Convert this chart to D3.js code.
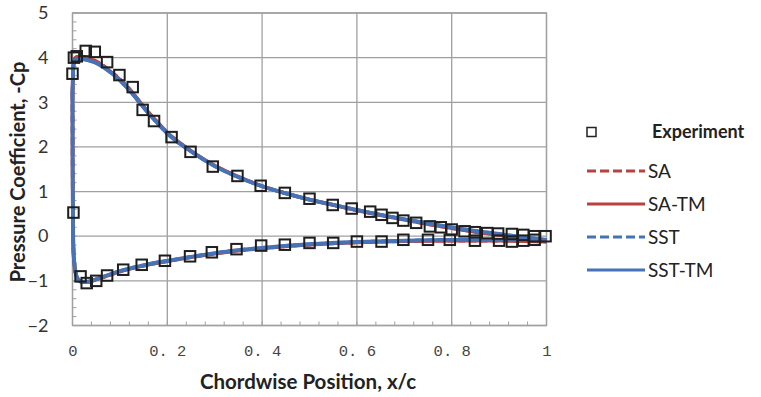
<!DOCTYPE html>
<html>
<head>
<meta charset="utf-8">
<script src="https://cdn.jsdelivr.net/npm/d3@7"></script>
<style>
  html, body { margin: 0; padding: 0; background: #fff; }
  svg { display: block; }
</style>
</head>
<body>
<svg id="chart" width="761" height="397"></svg>
<script>
// Chordwise stations and -Cp values, upper and lower surfaces
const xUpper      = [0, 0.002, 0.005, 0.01, 0.02, 0.03, 0.05, 0.075, 0.1, 0.125, 0.15, 0.175, 0.2, 0.25, 0.3, 0.35, 0.4, 0.45, 0.5, 0.55, 0.6, 0.65, 0.7, 0.75, 0.8, 0.85, 0.9, 0.95, 1.0];
const saUpper     = [3.2, 3.85, 3.98, 4.02, 4.03, 4.0, 3.92, 3.74, 3.52, 3.24, 2.9, 2.6, 2.32, 1.91, 1.58, 1.33, 1.12, 0.96, 0.82, 0.7, 0.58, 0.47, 0.37, 0.27, 0.18, 0.1, 0.03, -0.04, -0.12];
const saTmUpper   = [3.2, 3.84, 3.97, 4.01, 4.02, 3.99, 3.91, 3.73, 3.51, 3.23, 2.9, 2.6, 2.32, 1.91, 1.58, 1.33, 1.12, 0.96, 0.82, 0.7, 0.58, 0.47, 0.37, 0.27, 0.18, 0.1, 0.03, -0.04, -0.12];
const sstUpper    = [3.2, 3.82, 3.94, 3.97, 3.97, 3.95, 3.88, 3.71, 3.49, 3.21, 2.88, 2.58, 2.3, 1.9, 1.57, 1.32, 1.12, 0.96, 0.82, 0.7, 0.59, 0.48, 0.38, 0.29, 0.2, 0.12, 0.05, -0.02, -0.08];
const sstTmUpper  = [3.2, 3.82, 3.94, 3.97, 3.97, 3.95, 3.88, 3.71, 3.49, 3.21, 2.88, 2.58, 2.3, 1.9, 1.57, 1.32, 1.12, 0.96, 0.82, 0.7, 0.59, 0.48, 0.38, 0.29, 0.2, 0.12, 0.05, -0.02, -0.08];

const xLower      = [0, 0.0003, 0.001, 0.002, 0.004, 0.007, 0.012, 0.02, 0.03, 0.05, 0.075, 0.1, 0.15, 0.2, 0.25, 0.3, 0.35, 0.4, 0.5, 0.6, 0.7, 0.8, 0.9, 1.0];
const saLower     = [3.2, 1.6, 0.3, -0.3, -0.62, -0.84, -0.97, -1.03, -1.03, -0.97, -0.88, -0.79, -0.66, -0.56, -0.47, -0.39, -0.32, -0.27, -0.19, -0.14, -0.11, -0.1, -0.1, -0.12];
const saTmLower   = [3.2, 1.6, 0.3, -0.3, -0.62, -0.84, -0.97, -1.03, -1.03, -0.97, -0.88, -0.79, -0.66, -0.56, -0.47, -0.39, -0.32, -0.27, -0.19, -0.14, -0.11, -0.1, -0.1, -0.12];
const sstLower    = [3.2, 1.6, 0.3, -0.3, -0.62, -0.84, -0.97, -1.02, -1.02, -0.96, -0.87, -0.78, -0.65, -0.55, -0.46, -0.38, -0.31, -0.26, -0.18, -0.13, -0.1, -0.08, -0.08, -0.08];
const sstTmLower  = [3.2, 1.6, 0.3, -0.3, -0.62, -0.84, -0.97, -1.02, -1.02, -0.96, -0.87, -0.78, -0.65, -0.55, -0.46, -0.38, -0.31, -0.26, -0.18, -0.13, -0.1, -0.08, -0.08, -0.08];

// Experimental measurements
const expX  = [0, 0.003, 0.009, 0.028, 0.047, 0.073, 0.099, 0.127, 0.148, 0.172, 0.209, 0.249, 0.296, 0.348, 0.397, 0.448, 0.5, 0.549, 0.589, 0.628, 0.652, 0.675, 0.698, 0.725, 0.754, 0.777, 0.8, 0.827, 0.849, 0.875, 0.898, 0.927, 0.951, 0.974, 0.998,
               0.002, 0.017, 0.03, 0.05, 0.073, 0.107, 0.146, 0.195, 0.248, 0.294, 0.346, 0.398, 0.448, 0.5, 0.55, 0.6, 0.652, 0.698, 0.75, 0.796, 0.849, 0.9, 0.927, 0.951, 0.975];
const expCp = [3.64, 4.0, 4.03, 4.15, 4.13, 3.9, 3.61, 3.34, 2.83, 2.58, 2.22, 1.89, 1.56, 1.35, 1.13, 0.97, 0.84, 0.7, 0.62, 0.55, 0.48, 0.41, 0.35, 0.3, 0.22, 0.2, 0.15, 0.11, 0.09, 0.07, 0.06, 0.05, 0.03, 0.0, 0.0,
               0.53, -0.9, -1.05, -1.0, -0.88, -0.75, -0.64, -0.55, -0.45, -0.36, -0.29, -0.21, -0.19, -0.15, -0.15, -0.12, -0.12, -0.08, -0.08, -0.08, -0.1, -0.1, -0.12, -0.1, -0.08];

const xTicks = [0, 0.2, 0.4, 0.6, 0.8, 1];
const xTickLabels = ["0", "0. 2", "0. 4", "0. 6", "0. 8", "1"];
const yTicks = [-2, -1, 0, 1, 2, 3, 4, 5];

const seriesNames = ["SA", "SA-TM", "SST", "SST-TM"];
const seriesColors = ["#b8423f", "#b8423f", "#4673b8", "#4673b8"];
const seriesDashed = [true, false, true, false];

const svg = d3.select("#chart");
const margin = { left: 72.5, right: 761 - 546.5, top: 13, bottom: 397 - 325.5 };
const W = 761 - margin.left - margin.right;
const H = 397 - margin.top - margin.bottom;

const x = d3.scaleLinear().domain([0, 1]).range([margin.left, margin.left + W]);
const y = d3.scaleLinear().domain([-2, 5]).range([margin.top + H, margin.top]);

const gridColor = "#a0a0a0";
const textFont = "Lato, 'Open Sans', sans-serif";

// gridlines
const g = svg.append("g");
g.selectAll(".gx").data(xTicks).join("line")
  .attr("x1", d => x(d)).attr("x2", d => x(d))
  .attr("y1", y(-2)).attr("y2", y(5))
  .attr("stroke", gridColor).attr("stroke-width", 1.3);
g.selectAll(".gy").data(yTicks).join("line")
  .attr("x1", x(0)).attr("x2", x(1))
  .attr("y1", d => y(d)).attr("y2", d => y(d))
  .attr("stroke", gridColor).attr("stroke-width", 1.3);

// minor ticks on the inside of the left and bottom axes
const xMinor = d3.range(0, 1.0001, 0.04);
const yMinor = d3.range(-2, 5.0001, 0.2);
g.selectAll(".mx").data(xMinor).join("line")
  .attr("x1", d => x(d)).attr("x2", d => x(d))
  .attr("y1", y(-2)).attr("y2", y(-2) - 4)
  .attr("stroke", gridColor).attr("stroke-width", 1);
g.selectAll(".my").data(yMinor).join("line")
  .attr("x1", x(0)).attr("x2", x(0) + 4)
  .attr("y1", d => y(d)).attr("y2", d => y(d))
  .attr("stroke", gridColor).attr("stroke-width", 1);

// axes labels
const xAxis = d3.axisBottom(x).tickValues(xTicks).tickSize(0).tickPadding(19)
  .tickFormat((d, i) => xTickLabels[i]);
const xg = svg.append("g").attr("transform", `translate(0,${y(-2)})`).call(xAxis);
xg.select(".domain").remove();
xg.selectAll("text").attr("font-family", "'Liberation Mono', 'DejaVu Sans Mono', monospace")
  .attr("font-size", 15.5).attr("fill", "#444");

const yAxis = d3.axisLeft(y).tickValues(yTicks).tickSize(0).tickPadding(24).tickFormat(d3.format("d"));
const yg = svg.append("g").attr("transform", `translate(${x(0)},0)`).call(yAxis);
yg.select(".domain").remove();
yg.selectAll("text").attr("font-family", textFont)
  .attr("font-size", 18).attr("fill", "#333");

// plot border
svg.append("rect").attr("x", x(0)).attr("y", y(5)).attr("width", W).attr("height", H)
  .attr("fill", "none").attr("stroke", gridColor).attr("stroke-width", 1.3);

// CFD curves
const lineGen = d3.line().x(d => x(d[0])).y(d => y(d[1])).curve(d3.curveMonotoneX);
const upperSets = [saUpper, saTmUpper, sstUpper, sstTmUpper];
const lowerSets = [saLower, saTmLower, sstLower, sstTmLower];
const curves = svg.append("g").attr("fill", "none");
seriesNames.forEach((name, i) => {
  const upper = xUpper.map((xv, k) => [xv, upperSets[i][k]]);
  const lower = xLower.map((xv, k) => [xv, lowerSets[i][k]]);
  [upper, lower].forEach(pts => {
    curves.append("path")
      .attr("d", lineGen(pts))
      .attr("stroke", seriesColors[i])
      .attr("stroke-width", seriesDashed[i] ? 3.5 : 3.8)
      .attr("stroke-dasharray", seriesDashed[i] ? "7,4" : null);
  });
});

// experiment markers
const ms = 10.5;
svg.append("g").selectAll("rect").data(expX.map((v, i) => [v, expCp[i]])).join("rect")
  .attr("x", d => x(d[0]) - ms / 2).attr("y", d => y(d[1]) - ms / 2)
  .attr("width", ms).attr("height", ms)
  .attr("fill", "none").attr("stroke", "#1e1e1e").attr("stroke-width", 2);

// axis titles
svg.append("text").attr("x", 308).attr("y", 389).attr("text-anchor", "middle")
  .attr("font-family", textFont).attr("font-weight", 700)
  .attr("font-size", 20.5).attr("fill", "#222").text("Chordwise Position, x/c");
svg.append("text").attr("transform", "translate(25,172) rotate(-90)").attr("text-anchor", "middle")
  .attr("font-family", textFont).attr("font-weight", 700)
  .attr("font-size", 20).attr("fill", "#222").text("Pressure Coefficient, -Cp");

// legend
const lg = svg.append("g");
lg.append("rect").attr("x", 587).attr("y", 127.5).attr("width", 9).attr("height", 9)
  .attr("fill", "none").attr("stroke", "#222").attr("stroke-width", 1.5);
lg.append("text").attr("x", 652).attr("y", 138)
  .attr("font-family", textFont).attr("font-weight", 700)
  .attr("font-size", 18).attr("fill", "#222").text("Experiment");
const legY = [171, 204, 237, 270];
seriesNames.forEach((name, i) => {
  lg.append("line").attr("x1", 587).attr("x2", 645).attr("y1", legY[i]).attr("y2", legY[i])
    .attr("stroke", seriesColors[i]).attr("stroke-width", 3)
    .attr("stroke-dasharray", seriesDashed[i] ? "9,4" : null);
  lg.append("text").attr("x", 648).attr("y", legY[i] + 6.5)
    .attr("font-family", textFont)
    .attr("font-size", 19).attr("fill", "#222").text(name);
});
</script>
</body>
</html>
